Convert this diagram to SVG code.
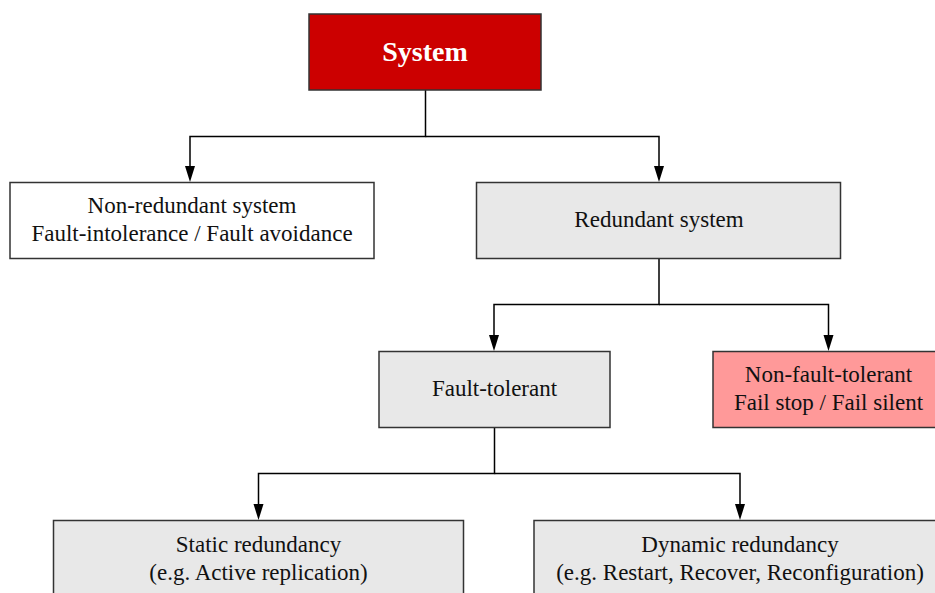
<svg xmlns="http://www.w3.org/2000/svg" width="935" height="593" viewBox="0 0 935 593">
<style>
.box{stroke:#333;stroke-width:1.5}
.w{fill:#ffffff}.g{fill:#e8e8e8}.p{fill:#ff9999}.r{fill:#cc0000}
text{font-family:"Liberation Serif","Times New Roman",serif;font-size:23px;fill:#111;text-anchor:middle}
.t{font-size:28px;font-weight:bold;fill:#fff}
.c{fill:none;stroke:#000;stroke-width:1.5}
</style>
<rect width="935" height="593" fill="#fff"/>
<g id="connectors">
<path class="c" d="M425.5,90 V136.5 H190 V166" />
<path class="c" d="M425.5,136.5 H659 V166"/>
<path d="M185,166 L195,166 L190,182 Z"/>
<path d="M654,166 L664,166 L659,182 Z"/>
<path class="c" d="M659,258 V304.5 H494 V335"/>
<path class="c" d="M659,304.5 H828.5 V335"/>
<path d="M489,335 L499,335 L494,351 Z"/>
<path d="M823.5,335 L833.5,335 L828.5,351 Z"/>
<path class="c" d="M494.5,428 V473.5 H258.5 V504"/>
<path class="c" d="M494.5,473.5 H740 V504"/>
<path d="M253.5,504 L263.5,504 L258.5,520 Z"/>
<path d="M735,504 L745,504 L740,520 Z"/>
</g>
<g id="system">
<rect class="box r" x="309" y="14" width="232" height="76"/>
<text class="t" x="425" y="61">System</text>
</g>
<g id="nonredundant">
<rect class="box w" x="10" y="182.5" width="364" height="76"/>
<text x="192" y="213">Non-redundant system</text>
<text x="192" y="241">Fault-intolerance / Fault avoidance</text>
</g>
<g id="redundant">
<rect class="box g" x="476.5" y="182.5" width="364" height="76"/>
<text x="659" y="227">Redundant system</text>
</g>
<g id="faulttolerant">
<rect class="box g" x="379" y="351.5" width="231" height="76"/>
<text x="494.5" y="396">Fault-tolerant</text>
</g>
<g id="nonfaulttolerant">
<rect class="box p" x="713" y="351.5" width="231" height="76"/>
<text x="828.5" y="382">Non-fault-tolerant</text>
<text x="828.5" y="410">Fail stop / Fail silent</text>
</g>
<g id="static">
<rect class="box g" x="53.5" y="520.5" width="410" height="90"/>
<text x="258.5" y="552">Static redundancy</text>
<text x="258.5" y="580">(e.g. Active replication)</text>
</g>
<g id="dynamic">
<rect class="box g" x="534" y="520.5" width="412" height="90"/>
<text x="740" y="552">Dynamic redundancy</text>
<text x="740" y="580">(e.g. Restart, Recover, Reconfiguration)</text>
</g>
</svg>
